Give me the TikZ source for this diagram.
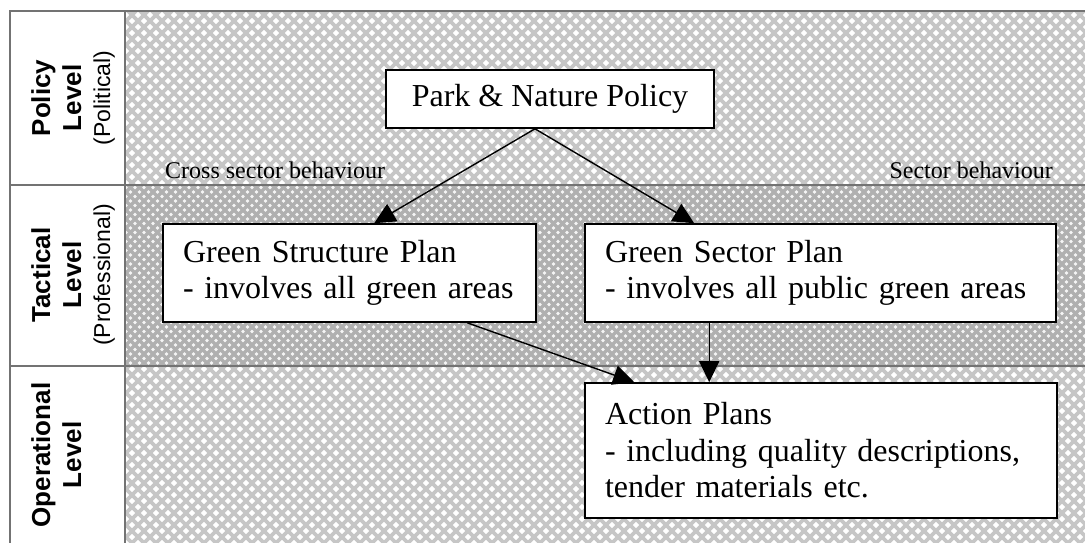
\documentclass[tikz,border=0pt]{standalone}
\usepackage{fontspec}
\setmainfont{Liberation Serif}
\newfontfamily\arialf{Liberation Sans}
\usetikzlibrary{arrows.meta,patterns,calc}
\pgfdeclarepatternformonly{diamondgrid}{\pgfpoint{-1pt}{-1pt}}{\pgfpoint{13pt}{13pt}}{\pgfpoint{12pt}{12pt}}{%
  \pgfsetlinewidth{3.6pt}%
  \pgfpathmoveto{\pgfpoint{-1pt}{-1pt}}\pgfpathlineto{\pgfpoint{13pt}{13pt}}%
  \pgfpathmoveto{\pgfpoint{-1pt}{13pt}}\pgfpathlineto{\pgfpoint{13pt}{-1pt}}%
  \pgfusepath{stroke}}
\pgfdeclarepatternformonly{diamondgridd}{\pgfpoint{-1pt}{-1pt}}{\pgfpoint{10pt}{10pt}}{\pgfpoint{9pt}{9pt}}{%
  \pgfsetlinewidth{3.4pt}%
  \pgfpathmoveto{\pgfpoint{-1pt}{-1pt}}\pgfpathlineto{\pgfpoint{10pt}{10pt}}%
  \pgfpathmoveto{\pgfpoint{-1pt}{10pt}}\pgfpathlineto{\pgfpoint{10pt}{-1pt}}%
  \pgfusepath{stroke}}
\begin{document}
\begin{tikzpicture}[x=1pt,y=-1pt,
  gridline/.style={draw=gray!90!black,line width=2pt},
  plan/.style={draw=black,fill=white,line width=1.6pt,inner xsep=20pt,inner ysep=4pt,
    align=left,font=\fontsize{32}{36.5}\selectfont},
  conn/.style={line width=1.4pt,-{Triangle[length=21pt,width=20pt]}},
  lvlb/.style={rotate=90,anchor=base,font=\arialf\bfseries\fontsize{26}{30}\selectfont},
  lvlr/.style={rotate=90,anchor=base,font=\arialf\fontsize{23}{27}\selectfont},
  behav/.style={font=\fontsize{24}{28}\selectfont,inner sep=0pt}]
\useasboundingbox (0,0) rectangle (1085,543);
% row backgrounds
\fill[white] (10,11) rectangle (1085,543);
\fill[pattern=diamondgrid,pattern color=gray!45] (125,11) rectangle (1085,185);
\fill[gray!8] (125,185) rectangle (1085,366);
\fill[pattern=diamondgridd,pattern color=gray!62] (125,185) rectangle (1085,366);
\fill[pattern=diamondgrid,pattern color=gray!45] (125,366) rectangle (1085,543);
% grid lines
\draw[gridline] (1085,11) -- (10,11) -- (10,543);
\draw[gridline] (125,11) -- (125,543);
\draw[gridline] (10,185) -- (1085,185);
\draw[gridline] (10,366) -- (1085,366);
% level labels
\node[lvlb] (l1a) at (50,98) {Policy};
\node[lvlb] (l1b) at (81,98) {Level};
\node[lvlr] (l1c) at (110,98) {(Political)};
\node[lvlb] (l2a) at (50,275) {Tactical};
\node[lvlb] (l2b) at (81,275) {Level};
\node[lvlr] (l2c) at (110,275) {(Professional)};
\node[lvlb] (l3a) at (50,455) {Operational};
\node[lvlb] (l3b) at (81,455) {Level};
% behaviour labels
\node[behav,anchor=base west] (cross) at (165,178) {Cross sector behaviour};
\node[behav,anchor=base east] (sect) at (1053,178) {Sector behaviour};
% plan boxes
\node[plan,align=center,minimum width=328pt,minimum height=58pt,inner xsep=4pt] (P) at (550,99) {Park \& Nature Policy};
\node[plan,text width=333pt,minimum height=98pt] (GS) at (349.5,273) {Green Structure Plan\\- involves all green areas};
\node[plan,text width=431pt,minimum height=98pt] (GP) at (820.5,273) {Green Sector Plan\\- involves all public green areas};
\node[plan,text width=432pt,minimum height=135pt] (AP) at (821,450.5) {Action Plans\\- including quality descriptions,\\tender materials etc.};
% connectors
\draw[conn] (P.south -| 535,0) -- ($(GS.north west)+(212,0)$);
\draw[conn] (P.south -| 535,0) -- ($(GP.north west)+(110,0)$);
\draw[conn] ($(GS.south west)+(305,0)$) -- ($(AP.north west)+(50,0)$);
\draw[conn] ($(GP.south west)+(125,0)$) -- ($(AP.north west)+(125,0)$);
\end{tikzpicture}
\end{document}
